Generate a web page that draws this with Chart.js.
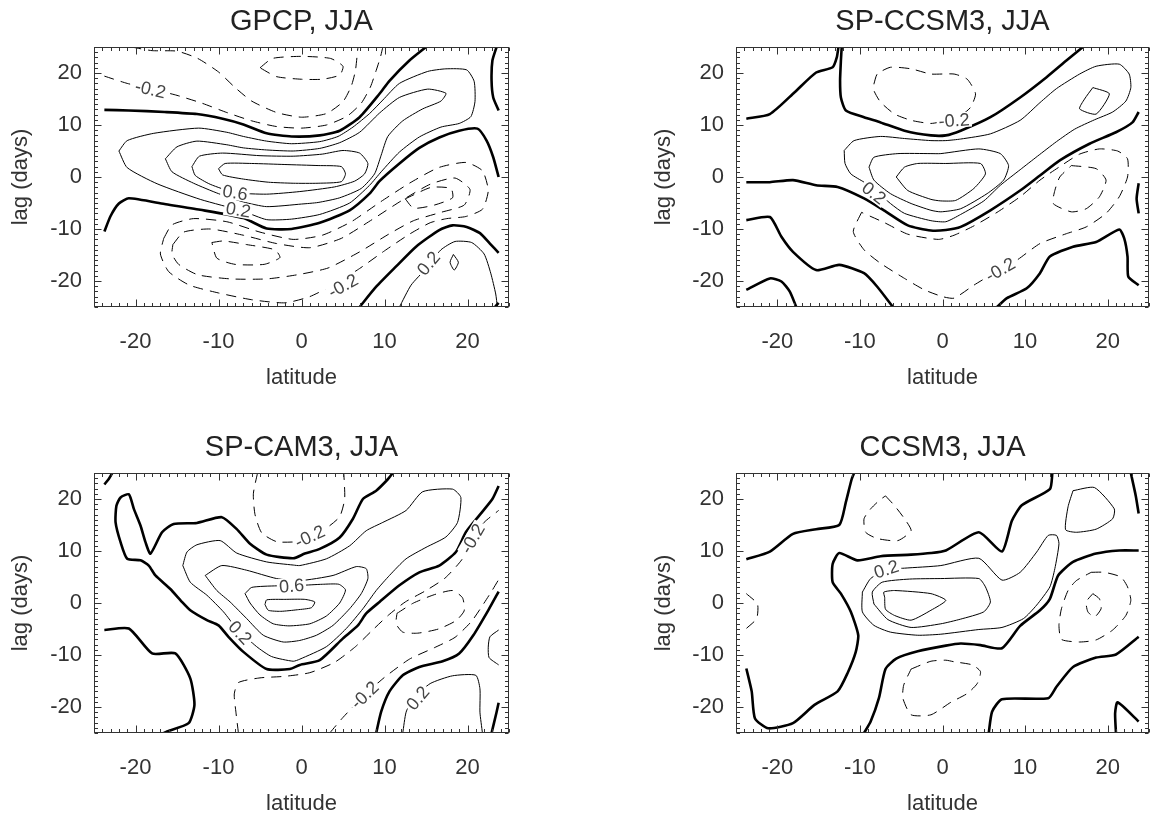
<!DOCTYPE html>
<html><head><meta charset="utf-8">
<script src="https://cdn.jsdelivr.net/npm/chart.js@4.4.1/dist/chart.umd.min.js"></script>
<style>
html,body{margin:0;padding:0;background:#fff;overflow:hidden;width:1150px;height:816px;position:relative;}
canvas{position:absolute;display:block;}
</style></head><body>
<canvas id="c1"></canvas><canvas id="c2"></canvas><canvas id="c3"></canvas><canvas id="c4"></canvas>
<script>
// ---------- texts & ticks ----------
const panelTitles = ["GPCP, JJA", "SP-CCSM3, JJA", "SP-CAM3, JJA", "CCSM3, JJA"];
const xAxisTitle = "latitude";
const yAxisTitle = "lag (days)";
const latTicks = [-20, -10, 0, 10, 20];
const lagTicks = [-20, -10, 0, 10, 20];
const latRange = [-25, 25];
const lagRange = [-25, 25];

// ---------- GPCP contours [latitude, lag] ----------
const gpcpZ1 = [[-23.75,12.9],[-20.8,12.8],[-16.5,12.5],[-12.6,12.1],[-9.5,11.2],[-7,10.1],[-4.2,8.4],[-1.2,7.8],[2.2,8.0],[4.6,8.9],[7,11.5],[9.4,16.0],[10.6,18.5],[13,22.4],[15,25]];
const gpcpZ2 = [[-23.75,-10.5],[-23,-7.5],[-22,-5.1],[-20.8,-4.1],[-16.5,-5.2],[-12.2,-6.3],[-7,-7.9],[-4.2,-9.9],[-1.2,-10.0],[2.2,-8.8],[5.8,-6.4],[8.2,-3.2],[9.4,-0.8],[11.8,2.6],[14.2,5.6],[16.6,7.6],[19,8.9],[21.2,9.3],[22.3,7.0],[23.1,3.8],[23.75,0.0]];
const gpcpZ3 = [[23.5,25],[23.0,22.4],[22.9,18.5],[23.1,15.3],[23.75,12.8]];
const gpcpZ4 = [[7,-25],[9,-21.1],[11.4,-17.2],[13.8,-13.4],[16.6,-10.2],[18.2,-9.3],[19.9,-9.6],[21.5,-10.8],[22.7,-12.8],[23.75,-14.6]];
const gpcpZ5 = [[23.3,-25],[23.75,-24.2]];
const gpcpP1 = [[-22.0,5.0],[-21.0,7.0],[-17.8,8.4],[-12.4,9.4],[-9,8.6],[-7,7.8],[-4.2,6.9],[-1.2,6.4],[2.2,6.8],[4.4,7.8],[6.2,9.6],[8.2,12.2],[9.8,14.8],[11.8,18.0],[15.2,20.3],[17.4,20.8],[19.9,20.6],[20.8,18.4],[20.9,14.5],[20.4,11.6],[19.0,10.3],[16.8,9.6],[14.2,7.7],[11.8,4.8],[9.6,1.0],[8.2,-1.6],[5.8,-5.0],[2.2,-7.2],[-1.2,-8.1],[-4.2,-8.2],[-7,-6.6],[-12.2,-4.3],[-17.4,-1.3],[-21.0,1.8],[-22.0,5.0]];
const gpcpP2 = [[-16.4,3.5],[-15.0,5.8],[-12.6,6.9],[-9,6.2],[-7,5.6],[-4.2,5.2],[-1,5.0],[2.2,5.5],[4.6,6.6],[7,8.6],[9.4,12.3],[11.8,15.3],[15.2,16.9],[17.4,16.1],[16.8,14.6],[14.6,13.1],[12.2,10.8],[10.4,7.8],[9.6,4.2],[8.8,0.6],[7.2,-2.2],[4.6,-4.0],[2,-4.9],[0,-5.2],[-4.2,-5.7],[-7,-4.8],[-10,-3.2],[-13,-1.2],[-15.6,1.0],[-16.4,3.5]];
const gpcpP3 = [[-13.2,2.0],[-12.3,4.0],[-9.5,4.6],[-5,4.1],[-1,4.0],[2.5,4.4],[5.0,5.1],[7.0,4.6],[8.0,2.6],[7.6,0.6],[6.4,-0.8],[4.0,-1.9],[-0.2,-2.8],[-4.2,-3.3],[-8,-3.0],[-11,-1.4],[-12.8,0.3],[-13.2,2.0]];
const gpcpP4 = [[-10,1.6],[-9.2,2.6],[-6,2.6],[-2,2.4],[2,2.2],[4.8,2.0],[5.3,0.6],[4.8,-0.9],[2,-1.2],[-1,-1.2],[-4,-1.0],[-7,-0.4],[-9.5,0.4],[-10,1.6]];
const gpcpP5 = [[11.8,-25],[13.2,-20.8],[15,-17.6],[16.8,-14.0],[18.5,-12.4],[20.5,-12.6],[22,-14.8],[22.8,-18.5],[23.4,-22.5],[23.6,-25]];
const gpcpP6 = [[18.3,-14.9],[18.9,-16.4],[18.4,-17.9],[17.9,-16.4],[18.3,-14.9]];
const gpcpN1 = [[-23.75,19.4],[-21,18.0],[-18,16.9],[-15,15.7],[-12,14.2],[-9,12.4],[-6,10.8],[-3,9.7],[0,9.4],[3,10.0],[5.5,11.7],[7.2,14.2],[8.3,17.3],[9.0,20.5],[9.5,23.0],[9.8,25]];
const gpcpN2 = [[-20.5,25],[-18,24.3],[-15,24.2],[-12.5,22.8],[-10,20.2],[-8,17.2],[-6,14.6],[-3,12.4],[0,11.5],[3,12.2],[5.0,14.5],[6.0,17.5],[6.5,20.5],[6.8,25]];
const gpcpN3 = [[-5.0,21.0],[-3.5,22.8],[0,23.2],[3.5,22.8],[5.0,21.3],[4.6,19.6],[2.5,18.8],[0,18.8],[-3,19.3],[-5.0,21.0]];
const gpcpN4 = [[-16.6,-11.8],[-15.6,-9.2],[-13,-8.0],[-9,-8.6],[-5,-10.6],[-1,-12.0],[2.5,-11.2],[6,-8.6],[9.5,-4.8],[13,-1.2],[16.5,1.8],[19.8,2.8],[21.8,1.2],[22.5,-2.6],[21.8,-6.2],[19.8,-7.6],[17.5,-8.0],[15.5,-8.8],[13,-11.0],[10,-14.2],[7,-17.6],[4,-20.6],[1,-23.0],[-2,-24.2],[-6,-23.6],[-10,-22.3],[-13.5,-20.8],[-16,-18.2],[-17,-14.8],[-16.6,-11.8]];
const gpcpN5 = [[-15.5,-13.0],[-14.2,-10.6],[-11,-10.0],[-7,-11.2],[-3,-12.8],[1,-13.6],[4.8,-11.8],[8.5,-8.2],[12,-4.6],[15.5,-1.4],[18.5,-0.2],[20.3,-2.4],[19.6,-5.4],[16.8,-6.8],[13.5,-8.4],[10.5,-11.0],[7,-14.4],[3.2,-17.5],[-0.5,-18.8],[-4.2,-19.6],[-8.5,-19.6],[-12.5,-18.8],[-14.8,-16.8],[-15.6,-14.8],[-15.5,-13.0]];
const gpcpN6 = [[-10.8,-12.6],[-9.4,-12.3],[-6.6,-13.0],[-3.2,-14.0],[-2.6,-15.5],[-4.5,-16.8],[-8,-16.8],[-10.2,-15.6],[-10.8,-12.6]];
const gpcpN7 = [[12.5,-4.2],[15.6,-2.0],[18,-2.2],[18.2,-4.0],[16,-5.4],[13.5,-6.0],[12.5,-4.2]];
const gpcpLabels = [["-0.2",-18.2,16.9,13],["0.6",-8.0,-3.0,9],["0.2",-7.6,-6.3,10],["-0.2",5.0,-20.9,-29],["0.2",15.3,-16.6,-50]];

// ---------- SP-CCSM3 contours ----------
const spccsmZ1 = [[-23.75,11.2],[-20.9,12.1],[-17.9,16.3],[-15.3,20.1],[-13.3,21.1],[-12.8,23.0],[-12.6,25]];
const spccsmZ2 = [[-12.2,25],[-12.3,22.4],[-12.4,18.5],[-12.3,15.3],[-11.7,12.8],[-9.5,11.5],[-7.5,10.5],[-4.6,8.9],[-1.4,8.0],[0.4,8.0],[2.2,8.9],[5.8,11.5],[9.4,15.3],[12.6,19.2],[15.0,22.4],[17.0,25]];
const spccsmZ3 = [[-23.75,-1.0],[-20.9,-1.0],[-18.1,-0.6],[-15.3,-1.6],[-12.7,-1.9],[-9.5,-4.1],[-7.1,-6.4],[-4.2,-9.3],[-1.4,-10.3],[0.4,-10.2],[2.2,-9.6],[5.8,-6.4],[9.4,-2.6],[11.8,0.3],[14.2,3.2],[17.8,6.4],[21.0,8.6],[23.0,10.5],[23.75,12.5]];
const spccsmZ4 = [[-23.75,-8.3],[-20.9,-7.7],[-19.5,-11.5],[-18.1,-14.4],[-15.3,-17.9],[-12.5,-16.9],[-9.5,-18.5],[-7.9,-21.1],[-6.0,-25]];
const spccsmZ5 = [[-23.75,-21.7],[-20.9,-19.5],[-19.5,-20.1],[-18.5,-22.0],[-17.7,-25]];
const spccsmZ6 = [[6.6,-25],[7.8,-23.3],[10.2,-21.4],[11.8,-18.5],[13.0,-15.3],[15.8,-13.4],[18.6,-12.5],[21.4,-10.1],[22.0,-11.8],[22.4,-15.3],[22.5,-19.2],[23.75,-20.8]];
const spccsmZ7 = [[23.75,-1.2],[23.5,-4.2],[23.75,-7.0]];
const spccsmP1 = [[-11.9,5.1],[-10.7,7.0],[-7.5,7.8],[-4.6,7.4],[-1.4,7.0],[0.4,7.0],[2.2,7.3],[5.8,8.3],[9.4,10.9],[11.8,14.3],[13.8,17.0],[16.6,19.8],[18.6,21.3],[21.4,21.7],[22.6,19.8],[22.8,17.2],[22.2,14.6],[20.6,12.5],[18.4,11.0],[16,9.2],[13.8,6.8],[11.5,4.0],[9.4,1.4],[7,-1.6],[5.0,-4.6],[2.2,-7.2],[0.4,-8.6],[-1.4,-8.4],[-4.6,-7.0],[-6.3,-5.1],[-7.9,-2.9],[-9.5,-1.0],[-11.1,0.6],[-11.8,2.6],[-11.9,5.1]];
const spccsmP2 = [[-8.9,1.9],[-8.3,3.8],[-5.4,4.5],[-1.4,4.5],[-0.2,4.5],[4.4,5.4],[7.0,4.5],[8.0,2.2],[7.4,-0.6],[5.4,-3.2],[2.2,-6.1],[-0.2,-6.7],[-1.4,-6.4],[-3.8,-5.1],[-6.3,-3.2],[-8.3,-0.6],[-8.9,1.9]];
const spccsmP3 = [[-5.6,0.0],[-4.6,1.9],[-3.0,2.6],[0.4,2.6],[4.6,2.6],[5.2,0.6],[3.8,-2.2],[1.6,-4.5],[-0.2,-4.6],[-1.4,-4.3],[-4.2,-2.6],[-5.6,0.0]];
const spccsmP4 = [[18.2,17.2],[20.2,16.0],[18.6,12.1],[16.6,13.1],[17.2,15.0],[18.2,17.2]];
const spccsmN1 = [[-8.3,17.9],[-7.9,19.8],[-6.3,21.1],[-3.8,20.8],[-1.4,19.8],[1.4,19.8],[3.0,18.8],[4.0,16.0],[3.4,13.4],[2.2,11.8],[0.6,10.9],[-1.4,10.3],[-3.8,10.9],[-5.8,12.1],[-7.5,14.4],[-8.3,16.6],[-8.3,17.9]];
const spccsmN2 = [[-9.8,-6.8],[-10.8,-10.5],[-9.5,-14.0],[-7.5,-16.6],[-4.6,-19.5],[-2.2,-21.7],[0,-23.0],[1.4,-23.3],[3.8,-20.8],[6.2,-18.5],[9.0,-16.0],[11.8,-12.8],[15.0,-10.9],[17.4,-9.6],[19.8,-7.0],[21.4,-3.8],[22.4,0.0],[22.4,3.5],[21.2,5.0],[19.0,5.4],[16.6,4.4],[14.2,2.0],[11.8,-0.6],[9.4,-3.8],[6.6,-6.8],[3.8,-9.4],[1.4,-11.2],[-0.5,-12.0],[-4.2,-11.0],[-7.0,-8.8],[-9.8,-6.8]];
const spccsmN3 = [[15.6,2.2],[18.6,1.6],[19.8,-0.6],[19.0,-3.8],[17.4,-6.1],[15.6,-6.7],[13.4,-5.1],[13.6,-2.6],[14.2,0.0],[15.6,2.2]];
const spccsmLabels = [["-0.2",1.4,10.9,-4],["0.2",-8.3,-3.1,38],["-0.2",7.0,-17.8,-30]];

// ---------- SP-CAM3 contours ----------
const spcamZ1 = [[23.75,22.5],[23.0,20.0],[21.4,16.8],[19.8,13.6],[18.6,9.8],[16.6,7.2],[14.2,5.9],[11.8,3.4],[9.4,0.2],[7.8,-2.0],[6.8,-4.3],[5.0,-6.8],[2.2,-11.0],[-0.2,-11.9],[-1.4,-12.7],[-4.2,-12.7],[-7.0,-9.4],[-8.8,-6.5],[-10.0,-4.3],[-11.4,-3.3],[-13.4,-1.4],[-14.4,0.2],[-15.8,2.7],[-17.6,5.3],[-18.4,7.2],[-19.4,8.2],[-21.0,8.5],[-21.8,11.7],[-22.4,15.5],[-22.3,18.7],[-21.8,20.3],[-20.8,20.9],[-20.2,18.1],[-19.4,14.9],[-18.8,11.7],[-18.2,9.5],[-16.8,13.6],[-15.4,15.2],[-12.6,15.4],[-9.6,16.5],[-7.8,14.2],[-6.2,11.4],[-4.2,9.3],[-1.0,8.6],[0.4,9.5],[2.2,10.4],[4.6,12.6],[6.2,16.2],[7.4,20.0],[9.0,21.6],[10.4,23.8],[11.0,25]];
const spcamZ2 = [[-23.75,22.8],[-23.2,23.9],[-22.8,25]];
const spcamZ3 = [[-23.75,-5.2],[-20.8,-4.9],[-18.0,-9.7],[-15.2,-9.7],[-13.4,-14.5],[-12.9,-19.6],[-13.6,-23.1],[-16.2,-24.7],[-16.6,-25]];
const spcamZ4 = [[9.0,-25],[9.6,-20.9],[10.6,-17.0],[12.2,-13.9],[14.2,-12.3],[17.0,-11.2],[19.0,-9.7],[20.7,-6.2],[22.5,-1.4],[23.75,2.2]];
const spcamZ5 = [[22.9,-25],[23.5,-21],[23.75,-19.2]];
const spcamP1 = [[-14.3,7.2],[-13.8,9.8],[-12.6,11.2],[-9.8,12.0],[-7.8,9.6],[-4.2,7.9],[-1.0,7.3],[-0.2,7.2],[3.0,8.5],[5.8,11.0],[7.8,13.9],[9.8,15.5],[12.6,17.8],[14.6,21.4],[18.2,21.9],[19.2,20.3],[18.8,15.5],[17.4,12.7],[15.0,10.7],[12.6,8.5],[10.6,5.3],[9.0,2.4],[7.4,-1.1],[5.4,-4.9],[3.0,-8.4],[-0.2,-10.8],[-1.0,-11.2],[-3.6,-10.3],[-5.4,-8.4],[-7.8,-4.9],[-9.4,-1.7],[-11.4,1.5],[-13.4,4.0],[-14.3,7.2]];
const spcamP2 = [[-11.6,5.3],[-9.6,7.2],[-6.6,6.3],[-3.0,4.7],[-0.2,4.3],[3.8,5.3],[6.6,7.0],[7.8,6.6],[8.0,4.7],[7.2,1.8],[5.8,-1.1],[3.8,-4.3],[1.8,-6.2],[-0.2,-7.2],[-2.2,-7.5],[-4.6,-6.2],[-6.6,-3.0],[-8.6,0.2],[-10.2,2.4],[-11.6,5.3]];
const spcamP3 = [[-6.8,1.8],[-6.0,3.0],[-3.0,3.3],[0,3.4],[2.5,3.6],[4.5,3.6],[5.3,2.5],[4.6,0],[3.0,-2.5],[1.0,-4.0],[-1.5,-4.4],[-3.4,-4.0],[-5.0,-2.3],[-6.2,0],[-6.8,1.8]];
const spcamP4 = [[-4.4,-0.3],[-4.2,0.6],[-2,0.7],[0.4,0.7],[1.6,0.2],[1.2,-0.9],[-0.5,-1.3],[-2.5,-1.6],[-4.0,-1.4],[-4.4,-0.3]];
const spcamP5 = [[12.2,-25],[12.6,-21.0],[13.4,-18.5],[15.5,-15.5],[18.2,-14.0],[21.0,-13.9],[21.5,-16.5],[21.5,-21],[21.8,-25]];
const spcamP6 = [[23.75,-5.2],[22.7,-6.5],[22.5,-8.5],[22.6,-10.5],[23.75,-11.9]];
const spcamN1 = [[-5.3,25],[-5.8,21.0],[-5.6,17.0],[-4.8,13.5],[-3.0,11.8],[-0.5,11.8],[1.0,12.6],[3.0,14.4],[4.6,16.6],[5.2,20.0],[5.1,25]];
const spcamN2 = [[-7.6,-25],[-7.9,-21],[-8.1,-17.5],[-7.6,-15.3],[-5,-14.4],[-2,-14.1],[1,-13.4],[4,-11.4],[6.5,-8.4],[8.5,-5.3],[10.5,-2.3],[12.5,0.2],[15,2.4],[17.3,4.8],[19.3,8.3],[20.6,12.4],[22.0,15.5],[23.75,17.8]];
const spcamN3 = [[3.4,-25],[5.0,-22],[7.6,-17.7],[10,-14.3],[13,-10.8],[16,-8.6],[18.5,-6.6],[20.5,-3.5],[22,0],[23,2.5],[23.75,4.5]];
const spcamN4 = [[11.5,-2.0],[13.5,0.0],[16,1.6],[18.2,2.4],[19.4,1.0],[19.6,-1.5],[18.6,-3.4],[16.5,-5.0],[14,-5.8],[12.2,-5.6],[11.4,-4.0],[11.5,-2.0]];
const spcamLabels = [["-0.2",1.0,12.8,-25],["0.6",-1.2,3.3,-4],["0.2",-7.4,-5.7,47],["-0.2",20.6,12.4,-60],["-0.2",7.6,-17.7,-44],["0.2",14.0,-18.3,-50]];

// ---------- CCSM3 contours ----------
const ccsmZ1 = [[-23.75,8.4],[-20.9,9.9],[-18.1,13.3],[-15.3,14.2],[-12.5,15.0],[-11.7,19.4],[-11.0,23.8],[-10.7,25]];
const ccsmZ2 = [[-23.75,-12.6],[-23.1,-17.0],[-22.7,-22.2],[-21.1,-24.1],[-18.1,-23.1],[-15.5,-19.6],[-12.7,-17.0],[-11.5,-13.5],[-10.5,-9.4],[-10.2,-6.2],[-11.1,-1.7],[-12.3,1.8],[-13.3,4.0],[-13.3,7.5],[-12.5,9.6],[-10.3,8.2],[-7.5,9.0],[-3.8,9.3],[-1.4,9.6],[0.4,10.1],[4.4,13.6],[7.2,9.9],[8.4,15.8],[9.6,18.8],[13.0,21.9],[13.3,25]];
const ccsmZ3 = [[-9.5,-25],[-8.7,-22.8],[-7.7,-18.3],[-6.9,-12.7],[-5.6,-10.7],[-3.0,-9.3],[0.4,-8.2],[2.2,-7.8],[4.6,-8.1],[7.2,-8.7],[9.4,-4.4],[11.8,-1.4],[13.0,0.8],[14.0,5.3],[15.8,7.9],[18.6,9.5],[21.4,10.1],[23.75,10.1]];
const ccsmZ4 = [[5.6,-25],[6.0,-20.9],[7.2,-18.5],[12.8,-18.3],[13.8,-16.1],[15.8,-12.3],[18.6,-10.5],[21.0,-9.9],[23.75,-6.5]];
const ccsmZ5 = [[21.0,-25],[20.9,-21.2],[21.2,-19.1],[23.75,-22.8]];
const ccsmZ6 = [[22.8,25],[23.4,20.6],[23.75,17.2]];
const ccsmP1 = [[-9.7,2.1],[-8.7,4.7],[-6.8,6.4],[-4.6,6.7],[-0.2,7.2],[4.4,8.6],[7.2,4.4],[9.4,5.9],[11.4,9.8],[12.8,13.0],[13.8,13.0],[14.1,11.4],[13.6,6.6],[13.0,3.1],[11.4,-0.4],[9.8,-3.0],[7.2,-4.7],[4.4,-5.1],[-0.2,-6.0],[-3.0,-6.2],[-6.3,-5.6],[-8.3,-4.3],[-9.7,-1.7],[-9.7,2.1]];
const ccsmP2 = [[-8.3,-0.2],[-8.5,2.1],[-7.3,4.0],[-4,4.6],[-0.2,4.7],[4.4,4.7],[5.2,3.1],[5.8,0.2],[5.0,-1.7],[2.2,-3.1],[-0.2,-4.0],[-3.8,-4.7],[-6.6,-3.2],[-8.3,-0.2]];
const ccsmP3 = [[-7.0,1.1],[-7.1,2.1],[-5.8,2.4],[-1.4,1.8],[0.4,0.5],[-1.4,-1.4],[-3.8,-3.3],[-5.8,-2.4],[-6.9,-1.2],[-7.0,1.1]];
const ccsmP4 = [[15.8,21.6],[18.4,22.2],[20.8,18.1],[20.6,16.2],[18.6,14.2],[16.2,13.6],[14.9,14.1],[15.2,18.5],[15.8,21.6]];
const ccsmN1 = [[-6.9,20.6],[-5.8,18.7],[-4.6,16.2],[-3.8,13.9],[-5.4,12.0],[-7.9,12.4],[-9.3,13.6],[-9.5,16.2],[-8.7,18.1],[-7.6,19.8],[-6.9,20.6]];
const ccsmN2 = [[-23.75,1.8],[-22.4,-0.2],[-22.5,-3.0],[-23.75,-4.9]];
const ccsmN3 = [[-3.8,-12.7],[-1.4,-11.2],[0.4,-11.0],[1.4,-11.3],[3.6,-11.9],[4.6,-13.2],[4.2,-15.5],[3.0,-17.4],[1.0,-19.1],[-1.4,-21.5],[-3.8,-21.5],[-4.8,-18.3],[-4.7,-15.8],[-3.8,-12.7]];
const ccsmN4 = [[18.0,5.9],[19.6,5.9],[21.6,5.0],[22.4,3.1],[22.8,0.5],[22.2,-2.4],[20.6,-5.2],[18.6,-7.1],[16.6,-7.5],[14.4,-7.0],[14.1,-4.3],[14.4,-1.1],[15.2,2.4],[16.2,4.3],[18.0,5.9]];
const ccsmN5 = [[18.2,1.8],[19.0,0.8],[19.2,-1.1],[18.4,-2.7],[17.6,-1.7],[17.4,0.2],[18.2,1.8]];
const ccsmLabels = [["0.2",-6.8,6.5,-18]];

// contour level of each line (0 = thick, >0 thin solid, <0 dashed)
const gpcpLines = [[0,gpcpZ1],[0,gpcpZ2],[0,gpcpZ3],[0,gpcpZ4],[0,gpcpZ5],[0.2,gpcpP1],[0.4,gpcpP2],[0.6,gpcpP3],[0.8,gpcpP4],[0.2,gpcpP5],[0.4,gpcpP6],[-0.2,gpcpN1],[-0.4,gpcpN2],[-0.6,gpcpN3],[-0.2,gpcpN4],[-0.4,gpcpN5],[-0.6,gpcpN6],[-0.6,gpcpN7]];
const spccsmLines = [[0,spccsmZ1],[0,spccsmZ2],[0,spccsmZ3],[0,spccsmZ4],[0,spccsmZ5],[0,spccsmZ6],[0,spccsmZ7],[0.2,spccsmP1],[0.4,spccsmP2],[0.6,spccsmP3],[0.4,spccsmP4],[-0.2,spccsmN1],[-0.2,spccsmN2],[-0.4,spccsmN3]];
const spcamLines = [[0,spcamZ1],[0,spcamZ2],[0,spcamZ3],[0,spcamZ4],[0,spcamZ5],[0.2,spcamP1],[0.4,spcamP2],[0.6,spcamP3],[0.8,spcamP4],[0.2,spcamP5],[0.2,spcamP6],[-0.2,spcamN1],[-0.2,spcamN2],[-0.2,spcamN3],[-0.4,spcamN4]];
const ccsmLines = [[0,ccsmZ1],[0,ccsmZ2],[0,ccsmZ3],[0,ccsmZ4],[0,ccsmZ5],[0,ccsmZ6],[0.2,ccsmP1],[0.4,ccsmP2],[0.6,ccsmP3],[0.2,ccsmP4],[-0.2,ccsmN1],[-0.2,ccsmN2],[-0.2,ccsmN3],[-0.2,ccsmN4],[-0.4,ccsmN5]];

// ---------- drawing ----------
const FONT = "'Liberation Sans', Arial, Helvetica, sans-serif";

function framePlugin() {
  return {
    id: 'frameTicks',
    afterDatasetsDraw(chart) {
      const {ctx, chartArea: a, scales: {x, y}} = chart;
      ctx.save();
      ctx.strokeStyle = '#333';
      ctx.lineWidth = 1;
      const L = Math.round(a.left) + 0.5, R = Math.round(a.right) - 0.5;
      const T = Math.round(a.top) + 0.5, B = Math.round(a.bottom) - 0.5;
      ctx.strokeRect(L, T, R - L, B - T);
      ctx.beginPath();
      for (let v = latRange[0]; v <= latRange[1]; v++) {
        const len = v % 10 === 0 ? 7 : 3.5;
        const px = Math.round(x.getPixelForValue(v)) + 0.5;
        ctx.moveTo(px, B); ctx.lineTo(px, B - len);
        ctx.moveTo(px, T); ctx.lineTo(px, T + len);
      }
      for (let v = lagRange[0]; v <= lagRange[1]; v++) {
        const len = v % 10 === 0 ? 7 : 3.5;
        const py = Math.round(y.getPixelForValue(v)) + 0.5;
        ctx.moveTo(L, py); ctx.lineTo(L + len, py);
        ctx.moveTo(R, py); ctx.lineTo(R - len, py);
      }
      ctx.stroke();
      ctx.restore();
    }
  };
}

function labelPlugin(labels) {
  return {
    id: 'contourLabels',
    afterDatasetsDraw(chart) {
      const {ctx, scales: {x, y}} = chart;
      ctx.save();
      ctx.font = '18px ' + FONT;
      ctx.textAlign = 'center';
      ctx.textBaseline = 'middle';
      labels.forEach(([txt, lat, lag, ang]) => {
        const px = x.getPixelForValue(lat), py = y.getPixelForValue(lag);
        ctx.save();
        ctx.translate(px, py);
        ctx.rotate(ang * Math.PI / 180);
        const w = ctx.measureText(txt).width;
        ctx.fillStyle = '#fff';
        ctx.fillRect(-w / 2 - 2, -7.5, w + 4, 15);
        ctx.fillStyle = '#444';
        ctx.fillText(txt, 0, 1);
        ctx.restore();
      });
      ctx.restore();
    }
  };
}

function makePanel(id, left, top, axisW, areaW, title, lines, labels) {
  const cv = document.getElementById(id);
  const W = axisW + areaW + 10, H = 408;
  cv.width = W; cv.height = H;
  cv.style.left = left + 'px'; cv.style.top = top + 'px';
  cv.style.width = W + 'px'; cv.style.height = H + 'px';
  const datasets = lines.map(([lvl, pts]) => ({
    data: pts.map(p => ({x: p[0], y: p[1]})),
    showLine: true,
    pointRadius: 0, pointHoverRadius: 0,
    borderColor: '#000',
    backgroundColor: '#000',
    borderWidth: lvl === 0 ? 2.6 : 1,
    borderDash: lvl < 0 ? [10, 7] : [],
    borderJoinStyle: 'round',
    borderCapStyle: 'butt',
    tension: 0.2,
    fill: false
  }));
  new Chart(cv, {
    type: 'scatter',
    data: {datasets},
    options: {
      responsive: false, animation: false, devicePixelRatio: 1,
      events: [],
      layout: {padding: {left: 0, right: 10, top: 0, bottom: 0}},
      plugins: {
        legend: {display: false}, tooltip: {enabled: false},
        title: {display: true, text: title, fullSize: false, color: '#222',
                font: {family: FONT, size: 29, weight: 'normal'}, padding: {top: 4.4, bottom: 7.8}}
      },
      scales: {
        x: {
          type: 'linear', position: 'bottom', min: latRange[0], max: latRange[1],
          grid: {display: false, drawTicks: false}, border: {display: false},
          afterBuildTicks: s => { s.ticks = latTicks.map(v => ({value: v})); },
          afterFit: s => { s.height = 101; },
          ticks: {font: {family: FONT, size: 22}, color: '#333', padding: 21.5, maxRotation: 0, autoSkip: false,
                  callback: v => String(v)},
          title: {display: true, text: xAxisTitle, color: '#333', font: {family: FONT, size: 22},
                  padding: {top: 17, bottom: 17}}
        },
        y: {
          type: 'linear', position: 'left', min: lagRange[0], max: lagRange[1],
          grid: {display: false, drawTicks: false}, border: {display: false},
          afterBuildTicks: s => { s.ticks = lagTicks.map(v => ({value: v})); },
          afterFit: s => { s.width = axisW; },
          ticks: {font: {family: FONT, size: 22}, color: '#333', padding: 12, autoSkip: false,
                  callback: v => String(v)},
          title: {display: true, text: yAxisTitle, color: '#333', font: {family: FONT, size: 22},
                  padding: {top: 8, bottom: 8}}
        }
      }
    },
    plugins: [labelPlugin(labels), framePlugin()]
  });
}

makePanel('c1', 0, 0, 94, 415, panelTitles[0], gpcpLines, gpcpLabels);
makePanel('c2', 643, 0, 93, 413, panelTitles[1], spccsmLines, spccsmLabels);
makePanel('c3', 0, 426, 94, 415, panelTitles[2], spcamLines, spcamLabels);
makePanel('c4', 643, 426, 93, 413, panelTitles[3], ccsmLines, ccsmLabels);
</script>
</body></html>
